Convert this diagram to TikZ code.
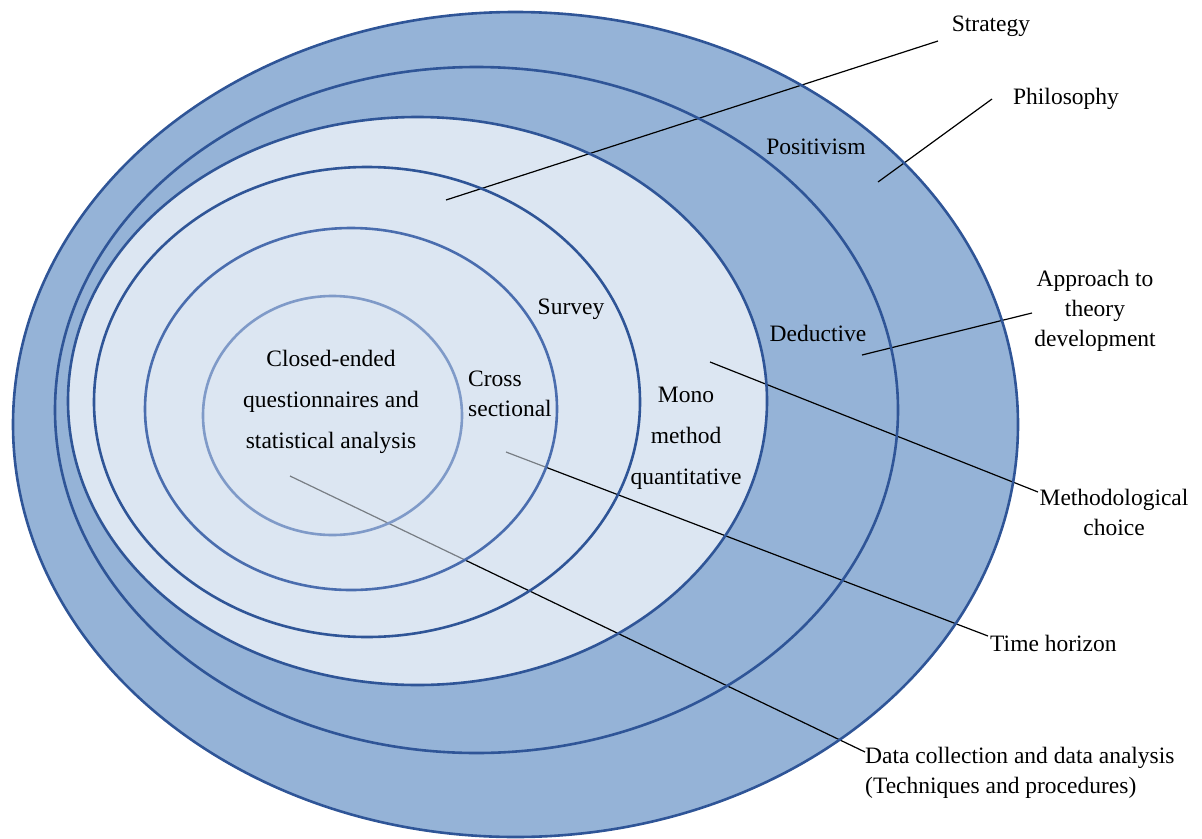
\documentclass[tikz,border=0pt]{standalone}
\usepackage{fontspec}
\setmainfont{Liberation Serif}
\newfontfamily\labelfont{Liberation Serif}
\definecolor{ringmid}{HTML}{95B3D7}
\definecolor{ringlight}{HTML}{DCE6F2}
\definecolor{ringedge}{HTML}{2F5597}
\definecolor{ringedgeB}{HTML}{4A6DAE}
\definecolor{ringedgeC}{HTML}{7F9AC8}
\tikzset{
  lbl/.style={inner sep=0pt, font=\labelfont\fontsize{23.5}{30}\selectfont, text=black},
  lblwide/.style={lbl, font=\labelfont\fontsize{23.5}{41}\selectfont},
  leader/.style={draw=black, line width=1.2pt},
  ring/.style={line width=2.6pt},
}
\begin{document}
\begin{tikzpicture}[x=1pt, y=-1pt]
\useasboundingbox (0,0) rectangle (1202,838);

% ring fills, outermost first
\fill[ringmid]   (515.5,424.5) ellipse [x radius=502.5, y radius=412.5];
\fill[ringmid]   (476.5,410)   ellipse [x radius=421.5, y radius=343];
\fill[ringlight] (417.5,401)   ellipse [x radius=349.5, y radius=284];

% leader end points
\coordinate (sA) at (446,200);   \coordinate (sB) at (938,41);
\coordinate (pA) at (878,182);   \coordinate (pB) at (992,99);
\coordinate (aA) at (862,355);   \coordinate (aB) at (1032,313);
\coordinate (mA) at (710,362);   \coordinate (mB) at (1038,492);
\coordinate (tA) at (506,452);   \coordinate (tB) at (988,636);
\coordinate (dA) at (290,476);   \coordinate (dB) at (865,752);

% leaders
\draw[leader] (sA) -- (sB);
\draw[leader] (pA) -- (pB);
\draw[leader] (aA) -- (aB);
\draw[leader] (mA) -- (mB);
\draw[leader] (tA) -- (tB);
\draw[leader] (dA) -- (dB);

% translucent inner ring softens the leaders it covers
\fill[ringlight, fill opacity=0.55] (351,409) ellipse [x radius=206, y radius=181];

% ring outlines
\draw[ring, ringedge]  (515.5,424.5) ellipse [x radius=502.5, y radius=412.5];
\draw[ring, ringedge]  (476.5,410)   ellipse [x radius=421.5, y radius=343];
\draw[ring, ringedge]  (417.5,401)   ellipse [x radius=349.5, y radius=284];
\draw[ring, ringedge]  (367,402)     ellipse [x radius=273, y radius=235];
\draw[ring, ringedgeB] (351,409)     ellipse [x radius=206, y radius=181];
\draw[ring, ringedgeC] (332.5,415.5) ellipse [x radius=129.5, y radius=119.5];

% labels inside the rings
\node[lbl, anchor=base] (positivism) at (816,154) {Positivism};
\node[lbl, anchor=base] (deductive)  at (818,341) {Deductive};
\node[lbl, anchor=base] (survey)     at (571,314) {Survey};
\node[lblwide, align=center] (mono) at (686,438)
  {Mono\\method\\quantitative};
\node[lbl, align=left, anchor=west] (cross) at (468,394)
  {Cross\\sectional};
\node[lblwide, align=center] (closed) at (331,402)
  {Closed-ended\\questionnaires and\\statistical analysis};

% layer names
\node[lbl, anchor=base] (strategy)   at (991,31)  {Strategy};
\node[lbl, anchor=base] (philosophy) at (1066,104) {Philosophy};
\node[lbl, align=center] (approach)  at (1095,311)
  {Approach to\\theory\\development};
\node[lbl, align=center] (method)    at (1114,512)
  {Methodological\\choice};
\node[lbl, anchor=base west] (time)  at (990,651) {Time horizon};
\node[lbl, align=left, anchor=west] (data) at (865,773)
  {Data collection and data analysis\\(Techniques and procedures)};
\end{tikzpicture}
\end{document}
